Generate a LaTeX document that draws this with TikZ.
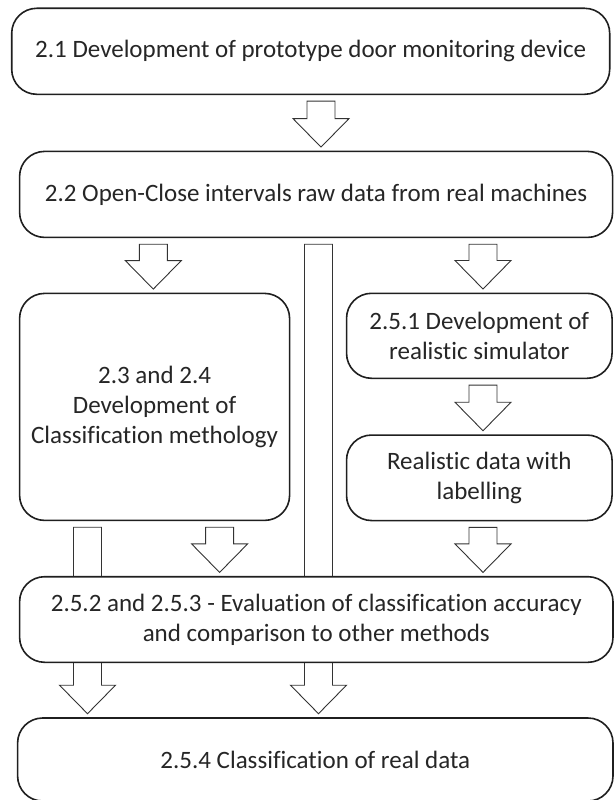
\documentclass[tikz,border=0pt]{standalone}
\usepackage{fontspec}
\setmainfont{Carlito}[Ligatures={NoCommon}]
\usetikzlibrary{calc,backgrounds}
\tikzset{
  box/.style={draw=black!88, line width=1.6pt, rounded corners=25pt, fill=white,
    align=center, inner sep=0pt, text=black!85, font=\fontsize{25}{30}\selectfont},
  barrowstyle/.style={draw=black!80, line width=0.9pt, fill=white, line join=miter}
}
\newcommand{\blockarrow}[3]{%
  \draw[barrowstyle] let \p1=(#2.south), \p2=(#3.north) in
    ({#1pt-14pt},{\y1-6pt}) -- ({#1pt+14pt},{\y1-6pt}) -- ({#1pt+14pt},{\y2+32pt})
    -- ({#1pt+28pt},{\y2+32pt}) -- ({#1pt},{\y2+3.5pt}) -- ({#1pt-28pt},{\y2+32pt})
    -- ({#1pt-14pt},{\y2+32pt}) -- cycle;}
\begin{document}
\begin{tikzpicture}[x=1pt,y=-1pt]
\useasboundingbox (0,0) rectangle (614,800);
\node[box, minimum width=598pt, minimum height=86pt] (b1) at (310.7,51.3)
  {2.1 Development of prototype door monitoring device};
\node[box, minimum width=593pt, minimum height=86pt] (b2) at (316.1,194.4)
  {2.2 Open-Close intervals raw data from real machines};
\node[box, minimum width=270pt, minimum height=227pt] (b3) at (154.6,406.9)
  {2.3 and 2.4\\Development of\\Classification methology};
\node[box, minimum width=265.5pt, minimum height=85pt] (b51) at (479.3,335.8)
  {2.5.1 Development of\\realistic simulator};
\node[box, minimum width=265.5pt, minimum height=85.5pt] (brd) at (479.3,477.8)
  {Realistic data with\\labelling};
\node[box, minimum width=593.4pt, minimum height=85.6pt] (b52) at (316.3,619.5)
  {2.5.2 and 2.5.3 - Evaluation of classification accuracy\\and comparison to other methods};
\node[box, minimum width=595.4pt, minimum height=83pt] (b54) at (315.3,759.5)
  {2.5.4 Classification of real data};
\begin{scope}[on background layer]
  \blockarrow{321}{b1}{b2}
  \blockarrow{153.3}{b2}{b3}
  \blockarrow{483}{b2}{b51}
  \blockarrow{483}{b51}{brd}
  \blockarrow{219.6}{b3}{b52}
  \blockarrow{483}{brd}{b52}
  \blockarrow{87.5}{b3}{b54}
  \blockarrow{318.5}{b2}{b54}
\end{scope}
\end{tikzpicture}
\end{document}
